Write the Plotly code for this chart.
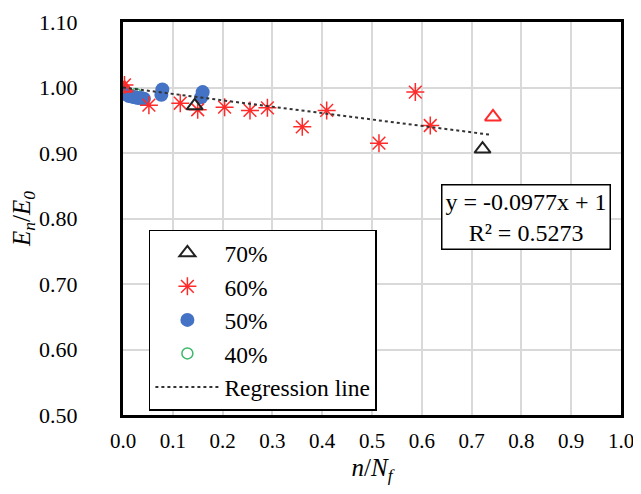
import plotly.graph_objects as go

# 70% series (black open triangles)
x70 = [0.144, 0.722]
y70 = [0.972, 0.906]
# 60% series (red asterisks)
x60 = [0.003, 0.052, 0.115, 0.150, 0.204, 0.255, 0.290, 0.360, 0.409, 0.514, 0.587, 0.617]
y60 = [1.004, 0.973, 0.976, 0.966, 0.970, 0.965, 0.969, 0.940, 0.965, 0.915, 0.993, 0.942]
# extra red triangles (plotted, not in legend)
x60t = [0.003, 0.743]
y60t = [0.999, 0.955]
# 50% series (blue filled circles)
x50 = [0.002, 0.006, 0.012, 0.018, 0.024, 0.030, 0.036, 0.042, 0.077, 0.079, 0.157, 0.160]
y50 = [0.995, 0.990, 0.987, 0.986, 0.985, 0.984, 0.984, 0.983, 0.989, 0.997, 0.985, 0.993]
# 40% series (green open circles)
x40 = [0.000, 0.006, 0.026]
y40 = [0.995, 0.990, 0.990]
# regression line y = -0.0977x + 1 (end points)
reg_x = [0.0, 0.74]
reg_y = [1.0, 0.9277]

xticks = [0.0, 0.1, 0.2, 0.3, 0.4, 0.5, 0.6, 0.7, 0.8, 0.9, 1.0]
yticks = [0.50, 0.60, 0.70, 0.80, 0.90, 1.00, 1.10]

FONT = "Liberation Serif"

fig = go.Figure()
fig.add_trace(go.Scatter(x=x40, y=y40, mode="markers", name="40%", legendrank=4,
                         marker=dict(symbol="circle-open", size=11, color="#3cb86a", line=dict(width=1.5))))
fig.add_trace(go.Scatter(x=x50, y=y50, mode="markers", name="50%", legendrank=3,
                         marker=dict(symbol="circle", size=14, color="#4472c4")))
fig.add_trace(go.Scatter(x=x60, y=y60, mode="markers", name="60%", legendrank=2,
                         marker=dict(symbol="asterisk-open", size=15, color="#ff2a2a", line=dict(width=1.5, color="#ff2a2a"))))
fig.add_trace(go.Scatter(x=x60t, y=y60t, mode="markers", showlegend=False,
                         marker=dict(symbol="triangle-up-open", size=14, color="#ff2a2a", line=dict(width=2, color="#ff2a2a"))))
fig.add_trace(go.Scatter(x=x70, y=y70, mode="markers", name="70%", legendrank=1,
                         marker=dict(symbol="triangle-up-open", size=14, color="#222222", line=dict(width=2, color="#222222"))))
fig.add_trace(go.Scatter(x=reg_x, y=reg_y, mode="lines", name="Regression line", legendrank=5,
                         line=dict(color="#333333", width=2, dash="dot")))

fig.add_annotation(x=0.81, y=0.504, xref="paper", yref="paper", xanchor="center", yanchor="middle",
                   text="y = -0.0977x + 1<br>R² = 0.5273", showarrow=False,
                   font=dict(family=FONT, size=24, color="black"),
                   bgcolor="white", bordercolor="black", borderwidth=1.5, borderpad=3)

fig.update_layout(
    width=625, height=478,
    margin=dict(l=115, r=12, t=14, b=71, autoexpand=False),
    plot_bgcolor="white", paper_bgcolor="white",
    font=dict(family=FONT, size=22, color="black"),
    legend=dict(x=0.052, y=0.472, xanchor="left", yanchor="top",
                bgcolor="white", bordercolor="black", borderwidth=1.5,
                font=dict(family=FONT, size=23.5, color="black"),
                itemwidth=64, tracegroupgap=0),
    showlegend=True,
)
fig.update_xaxes(range=[0, 1], tickvals=xticks, ticktext=[f"{v:.1f}" for v in xticks],
                 tickfont=dict(family=FONT, size=21, color="black"), automargin=False,
                 ticklabeloverflow="allow",
                 showgrid=True, gridcolor="#d9d9d9", gridwidth=1.5,
                 showline=True, linecolor="black", linewidth=3, mirror=True,
                 ticks="", ticklabelstandoff=5, zeroline=False,
                 title=dict(text="<i>n</i>/<i>N<sub>f</sub></i>", font=dict(family=FONT, size=25), standoff=7))
fig.update_yaxes(range=[0.5, 1.1], tickvals=yticks, ticktext=[f"{v:.2f}" for v in yticks],
                 tickfont=dict(family=FONT, size=22, color="black"), automargin=False,
                 showgrid=True, gridcolor="#d9d9d9", gridwidth=1.5,
                 showline=True, linecolor="black", linewidth=3, mirror=True,
                 ticks="", ticklabelstandoff=38, zeroline=False,
                 title=dict(text="<i>E<sub>n</sub></i>/<i>E<sub>0</sub></i>", font=dict(family=FONT, size=25), standoff=14))

fig.write_html("out.html")
